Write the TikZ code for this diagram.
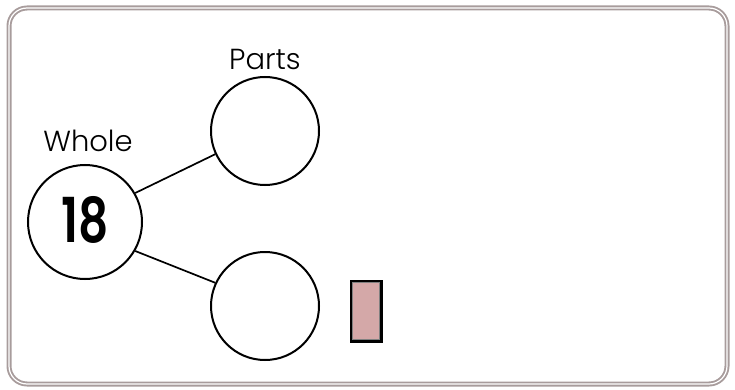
\documentclass[tikz,border=0pt]{standalone}
\usepackage{fontspec}
\setmainfont{Poppins}
\newfontfamily\lightfont{Poppins Light}
\newfontfamily\semifont{Poppins SemiBold}
\definecolor{frame}{HTML}{A89C9C}
\definecolor{pinkfill}{HTML}{D4A8A8}
\begin{document}
\begin{tikzpicture}[x=1pt,y=-1pt,
  circ/.style={draw=black,line width=2pt,circle,inner sep=0pt},
  conn/.style={draw=black,line width=1.7pt},
  lbl/.style={font=\lightfont\fontsize{29}{29}\selectfont,inner sep=0pt}]
\useasboundingbox (0,0) rectangle (735,390);
\draw[frame,line width=5pt,rounded corners=18pt] (9,8) rectangle (727,384);
\draw[white,line width=1.2pt,rounded corners=18pt] (9,8) rectangle (727,384);
\node[circ,minimum size=114pt] (whole) at (85,222) {};
\node[font=\semifont\fontsize{62}{62}\selectfont,inner sep=0pt] (num) at (85,220) {\scalebox{0.76}[1]{18}};
\node[circ,minimum size=108pt] (p1) at (265,131) {};
\node[circ,minimum size=108pt] (p2) at (265,306) {};
\node[lbl] (wl) at (88,141) {Whole};
\node[lbl] (pl) at (265,59) {Parts};
\draw[conn] (whole.30) -- (p1.205);
\draw[conn] (whole.-30) -- (p2.155);
\node[draw=black,line width=3pt,fill=pinkfill,minimum width=30pt,minimum height=60pt,inner sep=0pt] (r) at (366,311) {};
\draw[gray,line width=0.6pt] ([shift={(3pt,3pt)}]r.south west) rectangle ([shift={(-3pt,-3pt)}]r.north east);
\end{tikzpicture}
\end{document}
